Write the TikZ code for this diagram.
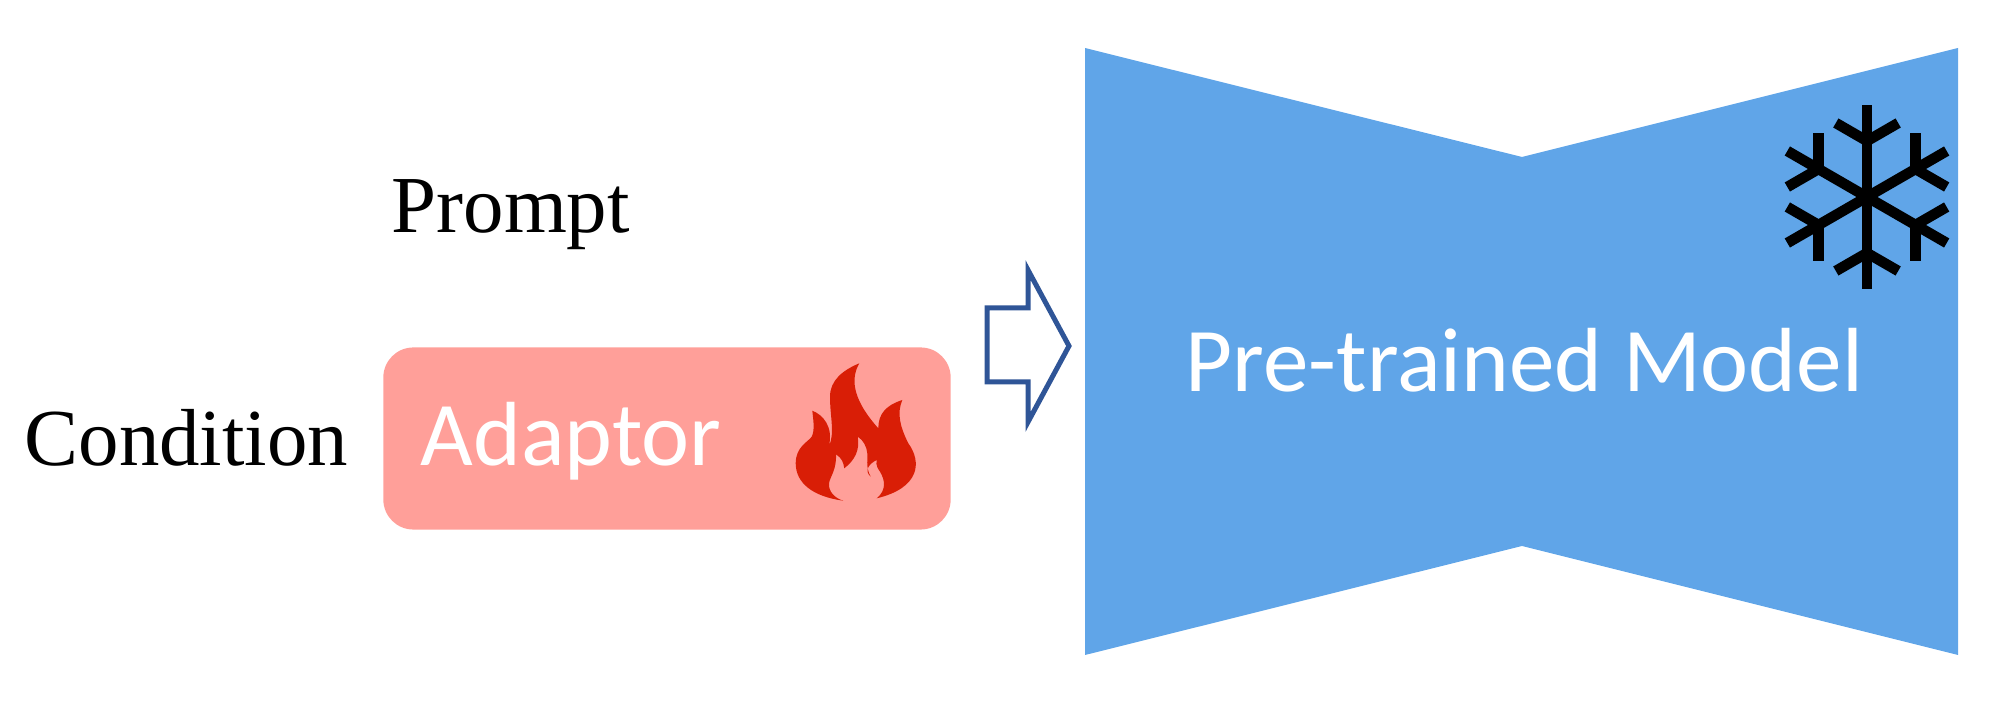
\documentclass[tikz,border=0pt]{standalone}
\usepackage{fontspec}
\setmainfont{Liberation Serif}
\newfontfamily\calibrilike{Carlito}
\definecolor{modelblue}{HTML}{60A5E8}
\definecolor{adaptorpink}{HTML}{FF9F99}
\definecolor{flamered}{HTML}{D91E06}
\definecolor{arrowblue}{HTML}{2F5597}
\tikzset{
    plainlabel/.style={anchor=base west, inner sep=0pt, font=\fontsize{23}{28}\selectfont},
    whitelabel/.style={anchor=base west, inner sep=0pt, text=white, font=\calibrilike\fontsize{25.9}{30}\selectfont},
    adaptorbox/.style={fill=adaptorpink, rounded corners=0.3cm, minimum width=5.67cm, minimum height=1.82cm, inner sep=0pt},
    flakeline/.style={line width=0.105cm, black}
}
\begin{document}
\begin{tikzpicture}[x=0.01cm, y=-0.01cm]
        \useasboundingbox (0,0) rectangle (1999,728);
        % frozen model
        \fill[modelblue] (1085,48)--(1522,157)--(1958,48)--(1958,655)--(1522,546)--(1085,655)--cycle;
        \node[whitelabel] (modellabel) at (1185,392) {Pre-trained Model};
        % snowflake
        \foreach \Angle in {30,90,150,210,270,330}{
            \draw[flakeline] (1867,197)--++(\Angle:92);
            \draw[flakeline] (1867,197)++(\Angle:56)--++(\Angle+60:36);
            \draw[flakeline] (1867,197)++(\Angle:56)--++(\Angle-60:36);
        }
        % adaptor
        \node[adaptorbox] (adaptor) at (667,438.5) {};
        \node[whitelabel] (adaptorlabel) at (420,466) {Adaptor};
        \fill[flamered] (843.3,500.7)
            .. controls (813.3,496.7) and (795.7,483.3) .. (795.7,463.3)
            .. controls (795.7,446.7) and (808,442) .. (811.7,436.7)
            .. controls (815,430) and (813.3,420) .. (812.3,410.7)
            .. controls (823.3,415) and (833.3,426.7) .. (829,446)
            .. controls (835,433.3) and (830,416.7) .. (830,396.7)
            .. controls (830,380) and (843.3,370) .. (859.3,363.3)
            .. controls (851.7,376.7) and (850,396.7) .. (878.3,428.3)
            .. controls (878.3,413.3) and (886.7,405) .. (902.3,400)
            .. controls (896.7,413.3) and (900,426.7) .. (908.3,443.3)
            .. controls (922,462) and (920,488) .. (876.7,498.3)
            .. controls (886.7,490) and (885,480) .. (880,471.7)
            .. controls (875,465) and (876.7,461.7) .. (876.7,460)
            .. controls (870,463.3) and (863.3,470) .. (870.7,476.7)
            .. controls (865,466.7) and (868.3,456.7) .. (867.3,453.3)
            .. controls (866.7,446.7) and (863.3,440) .. (857.7,436.7)
            .. controls (860,450) and (855,460) .. (844.3,468.3)
            .. controls (843.3,461.7) and (841.7,458.3) .. (836,454.3)
            .. controls (836.7,470) and (830,476.7) .. (829,483.3)
            .. controls (828.3,491.7) and (835,498.3) .. (843.3,500.7) -- cycle;
        % arrow into the model
        \draw[arrowblue, line width=0.05cm, miter limit=10] (987,308)--(1028,308)--(1028,270)--(1069,346)--(1028,422)--(1028,382)--(987,382)--cycle;
        % inputs
        \node[plainlabel] (prompt) at (391,233) {Prompt};
        \node[plainlabel] (condition) at (24,465.5) {Condition};
\end{tikzpicture}
\end{document}
